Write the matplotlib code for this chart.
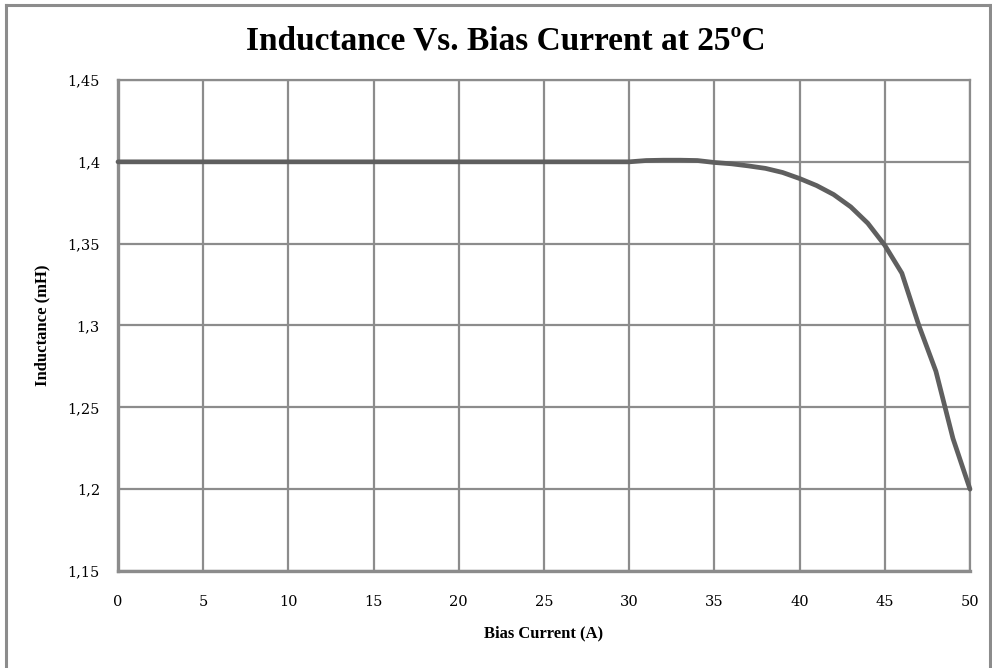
"""Inductance vs. bias current at 25 C."""

import matplotlib
matplotlib.use("Agg")
import matplotlib.pyplot as plt
from matplotlib.lines import Line2D

bias_current = [0, 5, 10, 15, 20, 25, 30, 31, 32, 33, 34, 35, 36, 37, 38, 39,
                40, 41, 42, 43, 44, 45, 46, 47, 48, 49, 50]
inductance = [1.4, 1.4, 1.4, 1.4, 1.4, 1.4, 1.4, 1.4008, 1.401, 1.401, 1.4008,
              1.3996, 1.3988, 1.3975, 1.396, 1.3935, 1.3898, 1.3855, 1.38,
              1.3725, 1.3625, 1.349, 1.332, 1.30, 1.272, 1.231, 1.2]

x_ticks = [0, 5, 10, 15, 20, 25, 30, 35, 40, 45, 50]
y_ticks = [1.15, 1.2, 1.25, 1.3, 1.35, 1.4, 1.45]
y_tick_labels = ["1,15", "1,2", "1,25", "1,3", "1,35", "1,4", "1,45"]

GRID = "#8c8c8c"
LINE = "#5f5f5f"
SERIF = ["Liberation Serif", "DejaVu Serif"]

plt.rcParams["font.family"] = SERIF

fig = plt.figure(figsize=(9.92, 6.68), dpi=100)
ax = fig.add_axes([118 / 992, 97 / 668, 852 / 992, 491 / 668])

ax.plot(bias_current, inductance, color=LINE, lw=3.4, solid_capstyle="round",
        solid_joinstyle="round", zorder=3, clip_on=False)

ax.set_xlim(0, 50)
ax.set_ylim(1.15, 1.45)
ax.set_xticks(x_ticks)
ax.set_xticklabels([str(t) for t in x_ticks], family="DejaVu Serif")
ax.set_yticks(y_ticks)
ax.set_yticklabels(y_tick_labels, family="DejaVu Serif")
ax.tick_params(length=0, labelsize=10.5, colors="black")
ax.tick_params(axis="x", pad=17)
ax.tick_params(axis="y", pad=13)
ax.grid(True, color=GRID, lw=1.6, zorder=1)
ax.set_axisbelow(True)
for name, spine in ax.spines.items():
    spine.set_color(GRID)
    spine.set_linewidth(2.4 if name in ("left", "bottom") else 1.6)

ax.set_xlabel("Bias Current (A)", fontsize=12, fontweight="bold", labelpad=12)
ax.set_ylabel("Inductance (mH)", fontsize=12, fontweight="bold", labelpad=12)
fig.text(0.51, 1 - 41 / 668, "Inductance Vs. Bias Current at 25ºC",
         ha="center", va="center", fontsize=24, fontweight="bold")

# chart frame
fig.add_artist(Line2D([6 / 992, 6 / 992], [0, 1 - 5 / 668], transform=fig.transFigure,
                      color=GRID, lw=2.2))
fig.add_artist(Line2D([6 / 992, 990 / 992], [1 - 5 / 668, 1 - 5 / 668],
                      transform=fig.transFigure, color=GRID, lw=2.2))
fig.add_artist(Line2D([990 / 992, 990 / 992], [0, 1 - 5 / 668], transform=fig.transFigure,
                      color=GRID, lw=2.2))

fig.savefig("out.png", dpi=100)
